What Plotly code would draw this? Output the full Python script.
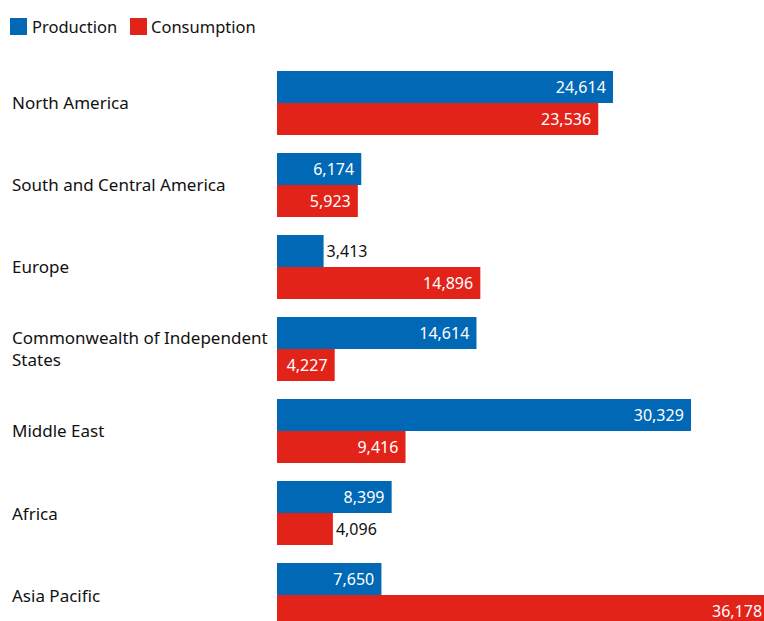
import plotly.graph_objects as go

categories = ["North America", "South and Central America", "Europe",
              "Commonwealth of Independent<br>States", "Middle East", "Africa", "Asia Pacific"]
production = [24614, 6174, 3413, 14614, 30329, 8399, 7650]
consumption = [23536, 5923, 14896, 4227, 9416, 4096, 36178]
prod_pos = ["inside", "inside", "outside", "inside", "inside", "inside", "inside"]
cons_pos = ["inside", "inside", "inside", "inside", "inside", "outside", "none"]
series_names = ["Production", "Consumption"]
# trailing padding (in non-breaking spaces) after each label
prod_pad = [1, 1, 0, 1, 1, 1, 1]
cons_pad = [1, 1, 1, 1, 1, 0, 0]

FONT = "Noto Sans"
BLUE = "#0068B4"
RED = "#E2231A"
NB = "\u00a0"
X_MAX = 35678

W, H = 764, 621
ML, MT = 277, 50
PW, PH = W - ML, H - MT


def px(x):
    return (x - ML) / PW


def py(y):
    return (H - y) / PH


idx = list(range(len(categories)))

fig = go.Figure()
fig.add_trace(go.Bar(
    y=idx, x=production, orientation="h", name=series_names[0], showlegend=False,
    marker=dict(color=BLUE, line=dict(width=0)),
    text=[f"{v:,}" + NB * p for v, p in zip(production, prod_pad)], textposition=prod_pos,
    insidetextanchor="end",
    insidetextfont=dict(color="white", size=16, family=FONT),
    outsidetextfont=dict(color="#111111", size=16, family=FONT),
))
fig.add_trace(go.Bar(
    y=idx, x=consumption, orientation="h", name=series_names[1], showlegend=False,
    marker=dict(color=RED, line=dict(width=0)),
    text=[f"{v:,}" + NB * p for v, p in zip(consumption, cons_pad)], textposition=cons_pos,
    insidetextanchor="end",
    insidetextfont=dict(color="white", size=16, family=FONT),
    outsidetextfont=dict(color="#111111", size=16, family=FONT),
))
# label of the bar that runs past the plot edge: placed at the visible end
fig.add_annotation(x=X_MAX, y=idx[6], xref="x", yref="y", text=f"{consumption[6]:,}",
                   showarrow=False, xanchor="right", yanchor="middle", xshift=0, yshift=-16,
                   font=dict(color="white", size=16, family=FONT))

# legend: square swatches + labels
for name, col, sx, tx in [(series_names[0], BLUE, 10, 30), (series_names[1], RED, 130, 149)]:
    fig.add_shape(type="rect", xref="paper", yref="paper",
                  x0=px(sx), x1=px(sx + 17), y0=py(35), y1=py(18),
                  fillcolor=col, line=dict(width=0))
    fig.add_annotation(x=px(tx), y=py(26.5), xref="paper", yref="paper", text=name,
                       showarrow=False, xanchor="left", yanchor="middle",
                       font=dict(size=16.5, color="#111111", family=FONT))

for i, c in enumerate(categories):
    fig.add_annotation(x=px(10), xref="paper", y=i, yref="y", text=c,
                       showarrow=False, xanchor="left", yanchor="middle", align="left",
                       font=dict(size=17, color="#111111", family=FONT))

fig.update_layout(
    width=W, height=H,
    margin=dict(l=ML, r=0, t=MT, b=0),
    barmode="group", bargap=0.22, bargroupgap=0,
    plot_bgcolor="white", paper_bgcolor="white",
    font=dict(family=FONT, size=16, color="#111111"),
    xaxis=dict(range=[0, X_MAX], visible=False, fixedrange=True),
    yaxis=dict(range=[6.317, -0.646], visible=False, fixedrange=True),
    showlegend=False,
)

fig.write_html("out.html")
